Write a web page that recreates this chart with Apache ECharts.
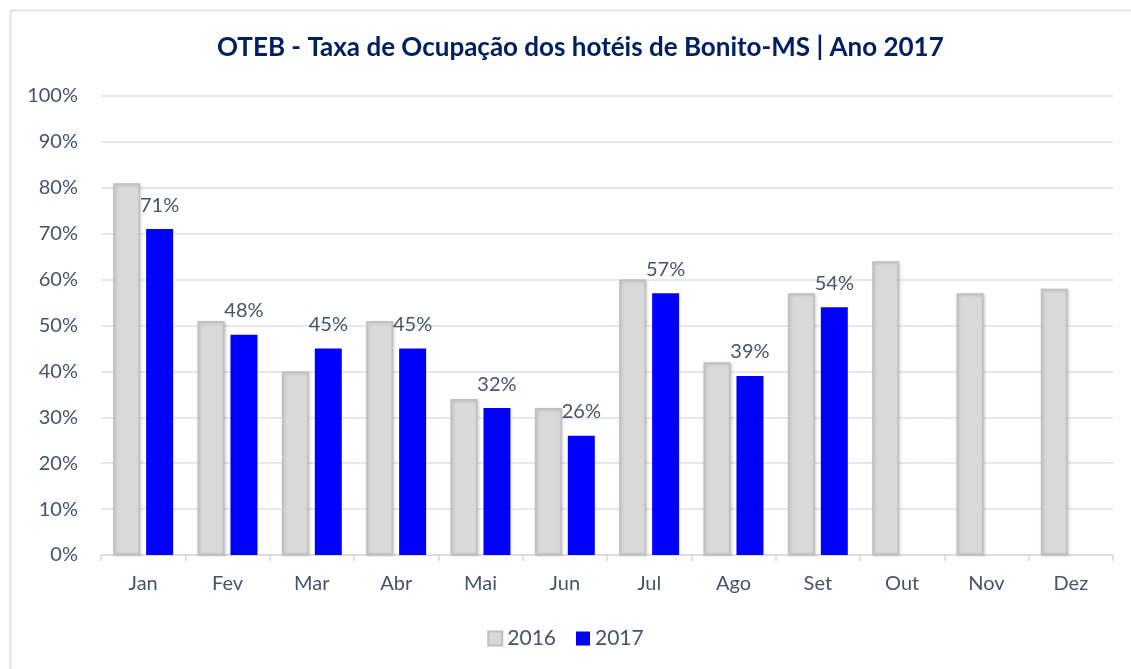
<!DOCTYPE html>
<html>
<head>
<meta charset="utf-8">
<script src="https://cdn.jsdelivr.net/npm/echarts@6/dist/echarts.min.js"></script>
<style>html,body{margin:0;padding:0;background:#fff;}#c{width:1131px;height:669px;}</style>
</head>
<body>
<div id="c"></div>
<script>
var titleText = 'OTEB - Taxa de Ocupação dos hotéis de Bonito-MS | Ano 2017';
var months = ['Jan','Fev','Mar','Abr','Mai','Jun','Jul','Ago','Set','Out','Nov','Dez'];
var seriesNames = ['2016','2017'];
var values2016 = [81, 51, 40, 51, 34, 32, 60, 42, 57, 64, 57, 58];
var values2017 = [71, 48, 45, 45, 32, 26, 57, 39, 54, null, null, null];

var chart = echarts.init(document.getElementById('c'));
var txt = '#44546a';
var font = 'Lato';
chart.setOption({
  backgroundColor: '#ffffff',
  animation: false,
  graphic: [{
    type: 'rect', left: 8, top: 8, silent: true,
    shape: {width: 1140, height: 680},
    style: {fill: 'none', stroke: '#dde1e8', lineWidth: 2}
  }],
  title: {
    text: titleText, left: 212, top: 30,
    textStyle: {fontFamily: font, fontSize: 26, fontWeight: 'bold', color: '#002060'}
  },
  legend: {
    data: seriesNames, bottom: 15, left: 'center', itemWidth: 14, itemHeight: 14, itemGap: 20,
    icon: 'rect',
    textStyle: {fontFamily: font, fontSize: 21, color: txt}
  },
  grid: {left: 101, right: 18, top: 96, bottom: 114, containLabel: false},
  xAxis: {
    type: 'category', data: months,
    axisLine: {lineStyle: {color: '#d9d9d9', width: 1.5}},
    axisTick: {show: true, length: 6, lineStyle: {color: '#d9d9d9', width: 1.5}},
    axisLabel: {fontFamily: font, fontSize: 20, color: txt, margin: 19}
  },
  yAxis: {
    type: 'value', min: 0, max: 100, interval: 10,
    axisLine: {show: false}, axisTick: {show: false},
    axisLabel: {fontFamily: font, fontSize: 20, color: txt, margin: 23, formatter: '{value}%'},
    splitLine: {lineStyle: {color: '#dde1e8', width: 1.5}}
  },
  series: [{
    name: seriesNames[0], type: 'bar', data: values2016, barWidth: 27, barGap: '22%',
    itemStyle: {color: '#d9d9d9', borderColor: '#bfbfbf', borderWidth: 1.5,
      shadowBlur: 3, shadowColor: 'rgba(0,0,0,0.18)', shadowOffsetX: 1, shadowOffsetY: 1}
  }, {
    name: seriesNames[1], type: 'bar', data: values2017, barWidth: 27,
    itemStyle: {color: '#0000ff'},
    label: {show: true, position: 'top', distance: 14, formatter: '{c}%',
      fontFamily: font, fontSize: 20, color: txt}
  }]
});
</script>
</body>
</html>
